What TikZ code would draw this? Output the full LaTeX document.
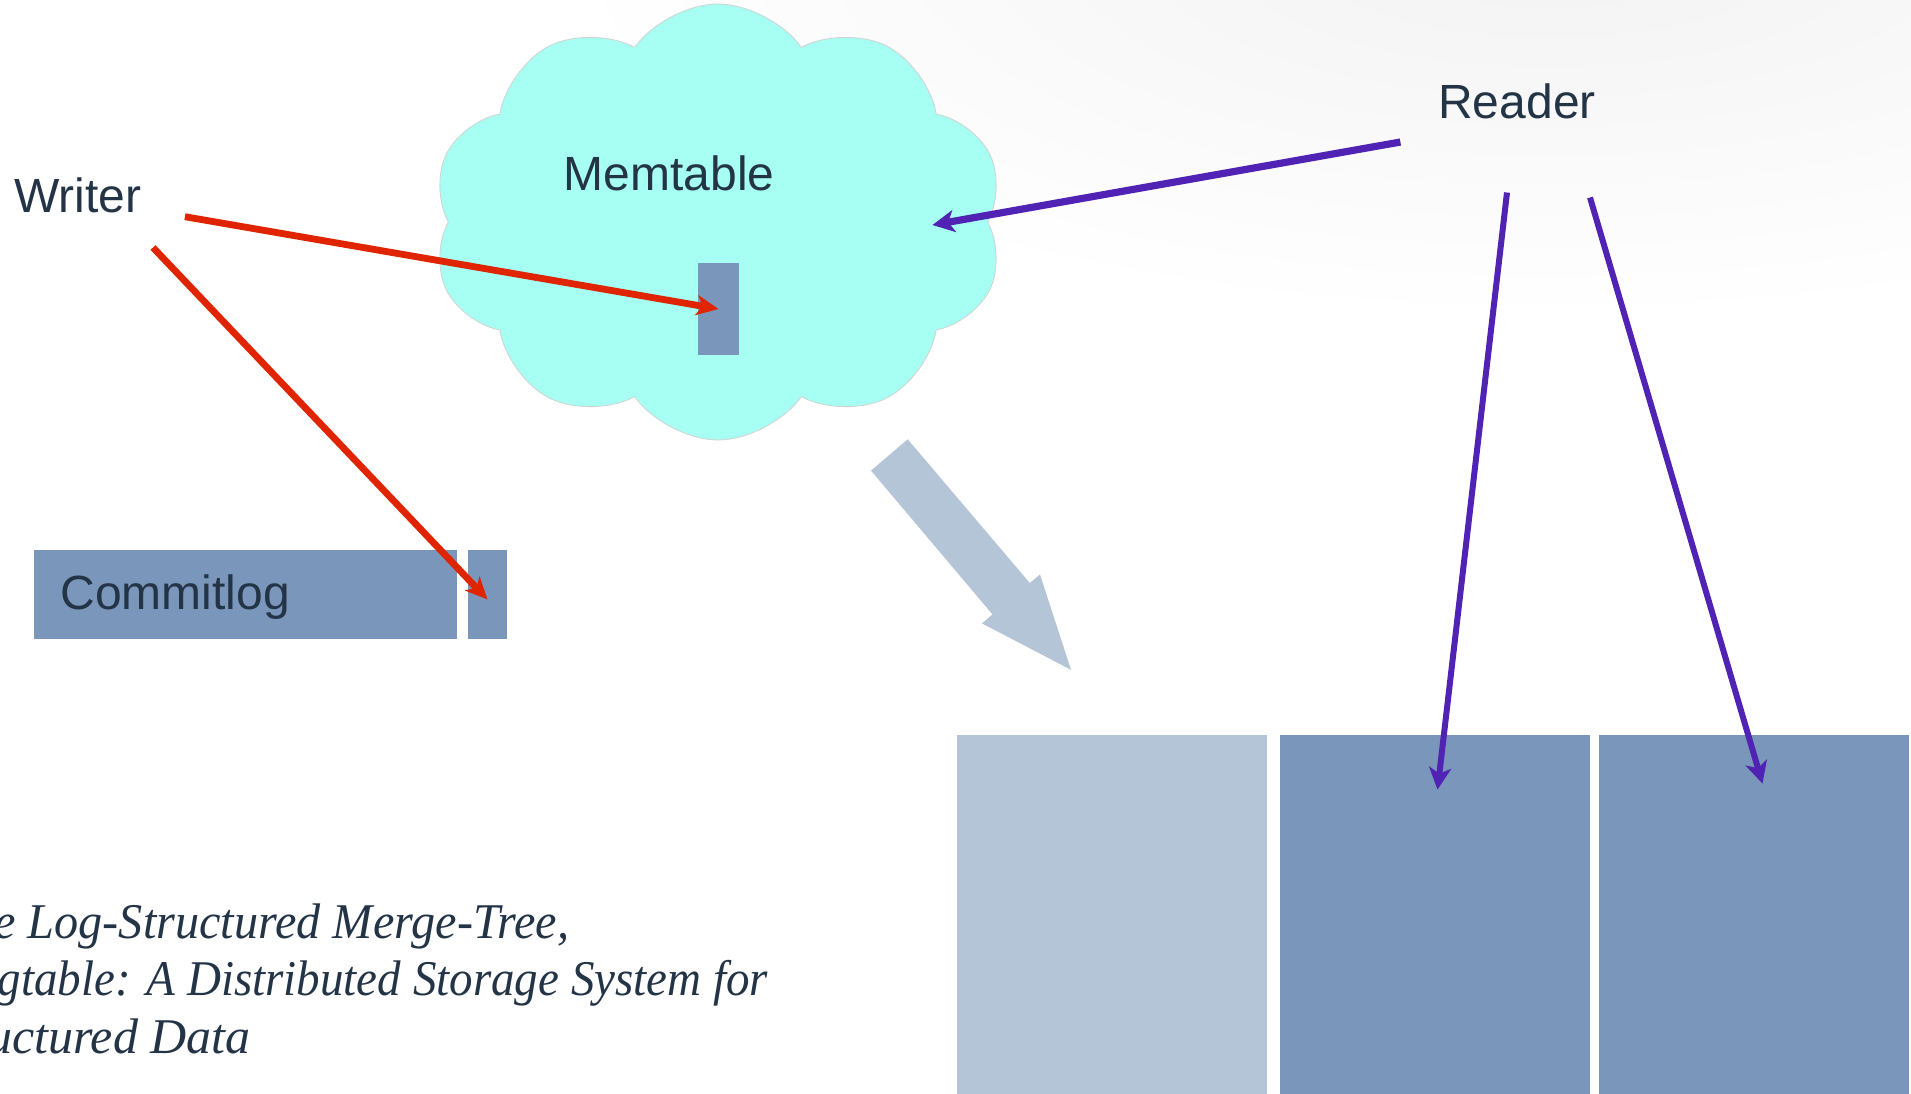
\documentclass[tikz,border=0pt]{standalone}
\usepackage{fontspec}
\setmainfont{Liberation Serif}
\setsansfont{Liberation Sans}
\usetikzlibrary{arrows.meta,shapes.symbols}

\definecolor{inkblue}{RGB}{36,52,71}
\definecolor{slate}{RGB}{122,150,186}
\definecolor{paleslate}{RGB}{180,197,215}
\definecolor{memcyan}{RGB}{166,255,242}
\definecolor{writered}{RGB}{224,36,0}
\definecolor{readpurple}{RGB}{80,35,180}

\begin{document}
\begin{tikzpicture}[x=0.5pt,y=-0.5pt]


\tikzset{actor/.style={inner sep=0pt,text=inkblue,font=\sffamily\fontsize{24}{28}\selectfont},}
\tikzset{refline/.style={inner sep=0pt,text=inkblue,font=\itshape\fontsize{25}{30}\selectfont,anchor=base east},}
\tikzset{block/.style={fill=slate,inner sep=0pt},}
\tikzset{oldblock/.style={fill=paleslate,inner sep=0pt},}
\tikzset{memcloud/.style={cloud,cloud puffs=10,cloud puff arc=110,aspect=1.3,fill=memcyan,draw=gray!35,line width=0.4pt,inner sep=0pt},}

\tikzset{writeArrow/.style={-{Stealth[length=11pt,width=10pt,inset=3pt]}, line width=3.4pt, writered}}
\tikzset{readArrow/.style={-{Stealth[length=11pt,width=11pt,inset=3pt]}, line width=3.6pt, readpurple}}

\useasboundingbox (0,0) rectangle (1911,1093);
\begin{scope}
	\clip (0,0) rectangle (1911,1093);
	\shade[inner color=black!5,outer color=white] (1550,-60) ellipse (1000 and 380);
\end{scope}

	\draw
		(718,222) node[memcloud,minimum width=286pt,minimum height=218pt] (cloud) {}
		(669,173) node[actor] (memtable) {Memtable}
		(718.5,309) node[block,minimum width=20.5pt,minimum height=46pt] (memslot) {}
		(78,195) node[actor] (writer) {Writer}
		(1517,101) node[actor] (reader) {Reader};

	\draw
		(245.5,594.5) node[block,minimum width=211.5pt,minimum height=44.5pt] (commitlog) {}
		(487.5,594.5) node[block,minimum width=19.5pt,minimum height=44.5pt] (logslot) {}
		(60,597) node[actor,anchor=west] (logtext) {Commitlog};

	\draw
		(1112,920) node[oldblock,minimum width=155pt,minimum height=185pt] (sst1) {}
		(1434.5,920) node[block,minimum width=155pt,minimum height=185pt] (sst2) {}
		(1754,920) node[block,minimum width=155pt,minimum height=185pt] (sst3) {};

	% flush
	\fill[paleslate] (907.7,439.3) -- (1029.8,583) -- (1040,574.5) -- (1071,669.8) -- (982,623.4) -- (992.5,614.4) -- (871,470.6) -- cycle;

	\draw[writeArrow]([shift={(43,21.7)}]writer.east) -- (memslot.center);
	\draw[writeArrow]([shift={(75,34.5)}]writer.south) -- ([shift={(0,5)}]logslot.center);

	\draw[readArrow]([shift={(-37.5,23)}]reader.south west) -- ([shift={(214.4,3)}]cloud.center);
	\draw[readArrow,line width=3pt]([shift={(-10,73.5)}]reader.south) -- ([shift={(3,55)}]sst2.north);
	\draw[readArrow,line width=3pt]([shift={(73,78.5)}]reader.south) -- ([shift={(8.5,49)}]sst3.north);

	\node[refline] (ref1) at (569.5,938.5) {\scalebox{0.965}[1]{e Log-Structured Merge-Tree,}};
	\node[refline] (ref2) at (768.5,995) {\scalebox{0.94}[1]{gtable: A Distributed Storage System for}};
	\node[refline] (ref3) at (251,1053.5) {\scalebox{1.0}[1]{uctured Data}};

\end{tikzpicture}
\end{document}
